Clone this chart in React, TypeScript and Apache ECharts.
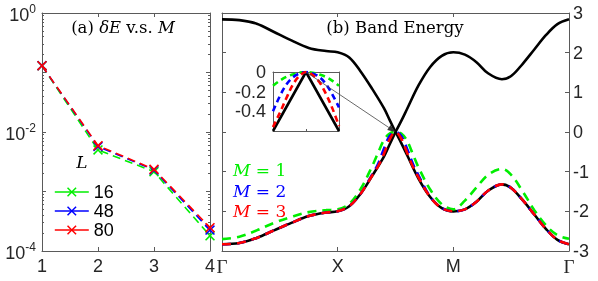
import React, { useEffect, useRef } from 'react';
import * as echarts from 'echarts';

// ---------- (a) error vs M ----------
const mValues = [1, 2, 3, 4];
const errL16 = [0.13, 5.0e-3, 2.15e-3, 1.8e-4];
const errL48 = [0.13, 5.7e-3, 2.3e-3, 2.25e-4];
const errL80 = [0.13, 5.9e-3, 2.36e-3, 2.47e-4];
const lNames = ['16', '48', '80'];
const logLabelExps = [0, -2, -4];

// ---------- (b) band energy ----------
const kTickNames = ['Γ', 'X', 'M', 'Γ'];
const kLeft = [0, 0.15, 0.3, 0.45, 0.6, 0.75, 0.9, 1.0, 1.1, 1.2, 1.3, 1.4, 1.45, 1.5];
const upperLeft = [2.84, 2.82, 2.73, 2.52, 2.31, 2.12, 2.04, 2.01, 1.88, 1.52, 1.08, 0.6, 0.3, 0];
const lowerLeft = [-2.83, -2.8, -2.67, -2.48, -2.29, -2.12, -2.03, -2.0, -1.87, -1.55, -1.1, -0.62, -0.31, 0];
const kRight = [1.5, 1.55, 1.6, 1.7, 1.8, 1.9, 2.0, 2.1, 2.2, 2.3, 2.42, 2.5, 2.6, 2.7, 2.8, 2.9, 3.0];
const upperRight = [0, 0.28, 0.58, 1.18, 1.64, 1.92, 2.01, 1.95, 1.76, 1.48, 1.33, 1.41, 1.72, 2.08, 2.44, 2.72, 2.84];
const lowerRight = [0, -0.28, -0.58, -1.18, -1.64, -1.92, -2.0, -1.95, -1.76, -1.48, -1.32, -1.41, -1.72, -2.08, -2.44, -2.72, -2.83];

const kDash = [0, 0.15, 0.3, 0.45, 0.6, 0.75, 0.9, 1.0, 1.1, 1.2, 1.3, 1.35, 1.4, 1.45, 1.5, 1.55, 1.6, 1.65, 1.7, 1.8, 1.9, 2.0, 2.1, 2.2, 2.3, 2.42, 2.5, 2.6, 2.7, 2.8, 2.9, 3.0];
const bandM1 = [-2.7, -2.64, -2.48, -2.29, -2.14, -2.02, -1.97, -1.95, -1.81, -1.43, -0.85, -0.52, -0.2, -0.04, 0, -0.04, -0.22, -0.56, -0.9, -1.45, -1.82, -1.95, -1.73, -1.4, -1.08, -0.93, -1.08, -1.5, -1.97, -2.35, -2.6, -2.69];
const bandM2 = [-2.83, -2.8, -2.67, -2.48, -2.29, -2.12, -2.03, -2.0, -1.87, -1.55, -1.06, -0.8, -0.42, -0.1, 0, -0.1, -0.42, -0.8, -1.1, -1.63, -1.92, -2.0, -1.95, -1.76, -1.48, -1.32, -1.41, -1.72, -2.08, -2.44, -2.72, -2.83];
const bandM3 = [-2.83, -2.8, -2.67, -2.48, -2.29, -2.12, -2.03, -2.0, -1.87, -1.55, -1.09, -0.86, -0.55, -0.18, 0, -0.17, -0.52, -0.87, -1.15, -1.64, -1.92, -2.0, -1.95, -1.76, -1.48, -1.32, -1.41, -1.72, -2.08, -2.44, -2.72, -2.83];

// ---------- inset near the Dirac point ----------
const insetBlackK = [-0.1, 0, 0.1];
const insetBlack = [-0.6, 0, -0.6];
const insetK = [-0.1, -0.08, -0.06, -0.04, -0.02, 0, 0.02, 0.04, 0.06, 0.08, 0.1];
const insetM1 = [-0.14, -0.09, -0.05, -0.025, -0.007, 0, -0.007, -0.025, -0.05, -0.09, -0.14];
const insetM2 = [-0.4, -0.25, -0.13, -0.055, -0.015, 0, -0.015, -0.05, -0.12, -0.23, -0.36];
const insetM3 = [-0.56, -0.42, -0.27, -0.13, -0.04, 0, -0.03, -0.1, -0.22, -0.37, -0.55];
const insetLabelValues = [0, -0.2, -0.4];

const GREEN = '#00ee00';
const BLUE = '#0000ff';
const RED = '#ff0000';
const AXIS = '#5a5a5a';
const LABEL = '#262626';
const SANS = 'Liberation Sans';
const SERIF = 'DejaVu Serif';

const pairs = (xs: number[], ys: number[]) => xs.map((x, i) => [x, ys[i]]);
const X_SYMBOL = 'path://M0,1.1L1.1,0L5,3.9L8.9,0L10,1.1L6.1,5L10,8.9L8.9,10L5,6.1L1.1,10L0,8.9L3.9,5Z';

export default function App() {
  const ref = useRef<HTMLDivElement>(null);
  useEffect(() => {
    const chart = echarts.init(ref.current!, null, { renderer: 'svg' });

    const minorLog: number[] = [];
    for (let n = -4; n < 0; n++) for (let k = 2; k <= 9; k++) minorLog.push(n + Math.log10(k));

    const axLine = { show: true, onZero: false, lineStyle: { color: AXIS, width: 1 } };
    const noAxLine = { show: false, onZero: false };
    const tick = (len: number) => ({ show: true, inside: true, length: len, lineStyle: { color: AXIS, width: 1 } });
    const noLabel = { show: false };
    const noSplit = { show: false };
    const lblFont = { fontFamily: SANS, fontSize: 18, color: LABEL };

    const errSeries = [errL16, errL48, errL80].map((vals, i) => ({
      name: lNames[i],
      type: 'line',
      xAxisIndex: 0,
      yAxisIndex: 0,
      data: pairs(mValues, vals),
      symbol: X_SYMBOL,
      symbolSize: 10,
      symbolKeepAspect: true,
      lineStyle: { type: [8, 5], width: 1.6, color: [GREEN, BLUE, RED][i] },
      itemStyle: { color: [GREEN, BLUE, RED][i] },
      z: 3 + i,
    }));

    const blackLine = (xs: number[], ys: number[], xi: number, yi: number) => ({
      type: 'line', xAxisIndex: xi, yAxisIndex: yi, data: pairs(xs, ys), symbol: 'none', smooth: 0.35,
      lineStyle: { color: '#000', width: 2.6 }, z: 2, silent: true,
    });
    const dashLine = (xs: number[], ys: number[], color: string, xi: number, yi: number, z: number, dash: number[]) => ({
      type: 'line', xAxisIndex: xi, yAxisIndex: yi, data: pairs(xs, ys), symbol: 'none', smooth: 0.35,
      lineStyle: { color, width: 2.6, type: dash }, z, silent: true,
    });

    chart.setOption({
      animation: false,
      grid: [
        { left: 42, top: 13, width: 168, height: 238 },
        { left: 222, top: 13, width: 347, height: 238 },
        { left: 273, top: 72, width: 66, height: 59, z: 10 },
      ],
      legend: {
        data: lNames,
        orient: 'vertical',
        left: 49,
        top: 178,
        itemWidth: 34,
        itemHeight: 12,
        itemGap: 1,
        selectedMode: false,
        lineStyle: { type: 'solid', width: 1.6 },
        textStyle: { fontFamily: SANS, fontSize: 18, color: '#000' },
      },
      xAxis: [
        { type: 'value', gridIndex: 0, min: 1, max: 4, interval: 1, position: 'bottom', axisLine: axLine, axisTick: tick(4),
          axisLabel: { ...lblFont, margin: 6 }, splitLine: noSplit },
        { type: 'value', gridIndex: 0, min: 1, max: 4, interval: 1, position: 'top', axisLine: axLine, axisTick: tick(4),
          axisLabel: noLabel, splitLine: noSplit },
        { type: 'value', gridIndex: 1, min: 0, max: 3, interval: 1, position: 'bottom', axisLine: axLine, axisTick: tick(4),
          axisLabel: {
            ...lblFont, margin: 6,
            formatter: (v: number) => {
              const s = kTickNames[Math.round(v)] ?? '';
              return s === 'Γ' ? '{g|Γ}' : s;
            },
            rich: { g: { fontFamily: 'Liberation Serif', fontSize: 19, color: LABEL } },
          }, splitLine: noSplit },
        { type: 'value', gridIndex: 1, min: 0, max: 3, interval: 1, position: 'top', axisLine: axLine, axisTick: tick(4),
          axisLabel: noLabel, splitLine: noSplit },
        { type: 'value', gridIndex: 2, min: -0.1, max: 0.1, interval: 0.1, position: 'bottom', axisLine: axLine, axisTick: tick(2),
          axisLabel: noLabel, splitLine: noSplit },
        { type: 'value', gridIndex: 2, min: -0.1, max: 0.1, interval: 0.1, position: 'top', axisLine: axLine, axisTick: { show: false },
          axisLabel: noLabel, splitLine: noSplit },
      ],
      yAxis: [
        { type: 'log', gridIndex: 0, min: 1e-4, max: 1, interval: 1, logBase: 10, position: 'left', axisLine: axLine, axisTick: tick(4),
          axisLabel: {
            margin: 6,
            formatter: (v: number) => {
              const e = Math.round(Math.log10(v));
              return logLabelExps.includes(e) ? `{b|10}{s|${e}}` : '';
            },
            rich: {
              b: { fontFamily: SANS, fontSize: 18, color: LABEL, verticalAlign: 'bottom' },
              s: { fontFamily: SANS, fontSize: 12, color: LABEL, verticalAlign: 'bottom', padding: [0, 0, 9, 0] },
            },
          }, splitLine: noSplit },
        { type: 'value', gridIndex: 0, min: -4, max: 0, position: 'left', axisLine: noAxLine,
          axisTick: { ...tick(2), customValues: minorLog }, axisLabel: noLabel, splitLine: noSplit },
        { type: 'log', gridIndex: 0, min: 1e-4, max: 1, interval: 1, logBase: 10, position: 'right', axisLine: axLine, axisTick: tick(4),
          axisLabel: noLabel, splitLine: noSplit },
        { type: 'value', gridIndex: 0, min: -4, max: 0, position: 'right', axisLine: noAxLine,
          axisTick: { ...tick(2), customValues: minorLog }, axisLabel: noLabel, splitLine: noSplit },
        { type: 'value', gridIndex: 1, min: -3, max: 3, interval: 1, position: 'right', axisLine: axLine, axisTick: tick(4),
          axisLabel: { ...lblFont, margin: 4 }, splitLine: noSplit },
        { type: 'value', gridIndex: 1, min: -3, max: 3, interval: 1, position: 'left', axisLine: axLine, axisTick: tick(4),
          axisLabel: noLabel, splitLine: noSplit },
        { type: 'value', gridIndex: 2, min: -0.6, max: 0, interval: 0.2, position: 'left', axisLine: axLine, axisTick: { show: false },
          axisLabel: {
            ...lblFont, margin: 7,
            formatter: (v: number) => {
              const r = Math.round(v * 10) / 10;
              return insetLabelValues.some((t) => Math.abs(t - r) < 1e-6) ? String(r) : '';
            },
          }, splitLine: noSplit },
        { type: 'value', gridIndex: 2, min: -0.6, max: 0, interval: 0.2, position: 'right', axisLine: axLine, axisTick: { show: false },
          axisLabel: noLabel, splitLine: noSplit },
      ],
      series: [
        ...errSeries,
        blackLine(kLeft, upperLeft, 2, 4),
        blackLine(kRight, upperRight, 2, 4),
        blackLine(kLeft, lowerLeft, 2, 4),
        blackLine(kRight, lowerRight, 2, 4),
        dashLine(kDash, bandM1, GREEN, 2, 4, 3, [9, 6]),
        dashLine(kDash, bandM2, BLUE, 2, 4, 4, [9, 6]),
        dashLine(kDash, bandM3, RED, 2, 4, 5, [9, 6]),
        { ...blackLine(insetBlackK, insetBlack, 4, 6), smooth: false, z: 11 },
        dashLine(insetK, insetM1, GREEN, 4, 6, 12, [6, 4]),
        dashLine(insetK, insetM2, BLUE, 4, 6, 13, [6, 4]),
        dashLine(insetK, insetM3, RED, 4, 6, 14, [6, 4]),
      ],
    });

    const p1 = chart.convertToPixel({ xAxisIndex: 4, yAxisIndex: 6 } as any, [insetBlackK[1], insetBlack[1]]) as number[];
    const p2 = chart.convertToPixel({ xAxisIndex: 2, yAxisIndex: 4 } as any, [kLeft[kLeft.length - 1], upperLeft[upperLeft.length - 1]]) as number[];
    const dx = p2[0] - p1[0];
    const dy = p2[1] - p1[1];
    const len = Math.hypot(dx, dy) || 1;
    const ux = dx / len, uy = dy / len;
    const ah = 8, aw = 3;
    const base = [p2[0] - ux * ah, p2[1] - uy * ah];

    const serifRich = (size: number, color: string) => ({
      n: { fontFamily: SERIF, fontSize: size, fill: color },
      i: { fontFamily: SERIF, fontSize: size, fontStyle: 'italic', fill: color },
    });

    chart.setOption({
      graphic: [
        { type: 'text', x: 123, y: 27, z: 50, style: { text: '{n|(a) }{i|δE}{n| v.s. }{i|M}', rich: serifRich(16.5, '#000'), align: 'center', verticalAlign: 'middle' } },
        { type: 'text', x: 395, y: 27, z: 50, style: { text: '{n|(b) Band Energy}', rich: serifRich(16.5, '#000'), align: 'center', verticalAlign: 'middle' } },
        { type: 'text', x: 82, y: 162, z: 50, style: { text: '{i|L}', rich: serifRich(17, '#000'), align: 'center', verticalAlign: 'middle' } },
        { type: 'text', x: 233, y: 170, z: 50, style: { text: '{i|M}{n| = 1}', rich: serifRich(17, GREEN), align: 'left', verticalAlign: 'middle' } },
        { type: 'text', x: 233, y: 191, z: 50, style: { text: '{i|M}{n| = 2}', rich: serifRich(17, BLUE), align: 'left', verticalAlign: 'middle' } },
        { type: 'text', x: 233, y: 211, z: 50, style: { text: '{i|M}{n| = 3}', rich: serifRich(17, RED), align: 'left', verticalAlign: 'middle' } },
        { type: 'line', z: 60, shape: { x1: p1[0], y1: p1[1], x2: base[0], y2: base[1] }, style: { stroke: '#444', lineWidth: 0.8 } },
        { type: 'polygon', z: 60, shape: { points: [[p2[0], p2[1]], [base[0] - uy * aw, base[1] + ux * aw], [base[0] + uy * aw, base[1] - ux * aw]] }, style: { fill: '#333' } },
      ],
    });

    return () => chart.dispose();
  }, []);
  return <div ref={ref} style={{ position: 'fixed', left: 0, top: 0, width: 598, height: 281 }} />;
}
